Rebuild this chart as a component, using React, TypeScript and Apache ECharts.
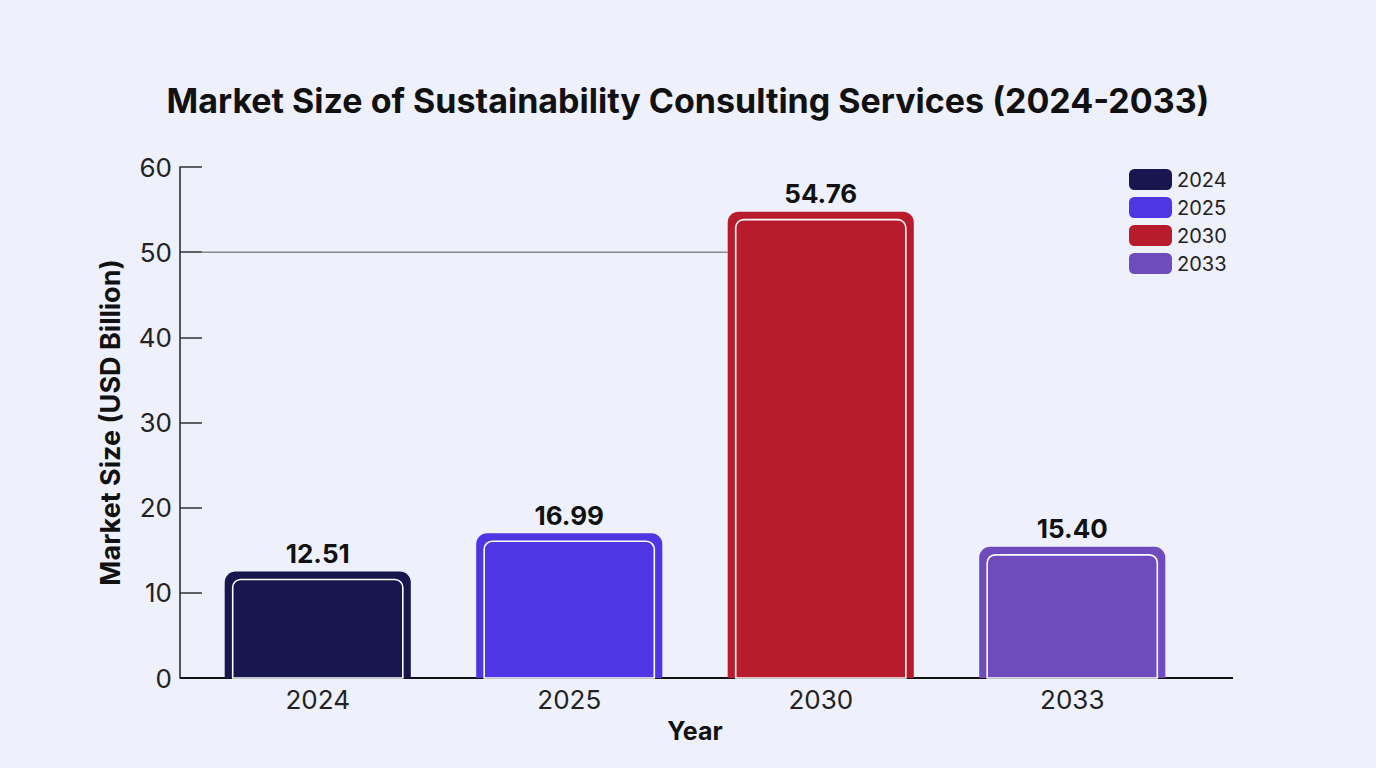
import React, { useEffect, useRef } from "react";
import * as echarts from "echarts";

const categories = ["2024", "2025", "2030", "2033"];
const values = [12.51, 16.99, 54.76, 15.4];
const colors = ["#17164f", "#4f35e3", "#b81b2b", "#6f4cbe"];
const yTicks = { min: 0, max: 60, interval: 10 };
const guideValue = 50;

const FONT = "Inter, 'Noto Sans', sans-serif";
const BAR_RATIO = 0.74;

export default function App() {
  const ref = useRef<HTMLDivElement>(null);
  useEffect(() => {
    if (!ref.current) return;
    const chart = echarts.init(ref.current, null, { renderer: "svg" });
    const series = categories.map((name, i) => ({
      type: "custom",
      name,
      z: 3,
      itemStyle: { color: colors[i] },
      encode: { x: 0, y: 1 },
      data: [[i, values[i]]],
      renderItem: (params: any, api: any) => {
        const idx = api.value(0);
        const v = api.value(1);
        const top = api.coord([idx, v]);
        const base = api.coord([idx, 0]);
        const bw = api.size([1, 0])[0] * BAR_RATIO;
        const x0 = top[0] - bw / 2;
        const h = base[1] - top[1];
        return {
          type: "group",
          children: [
            {
              type: "rect",
              shape: { x: x0, y: top[1], width: bw, height: h, r: [11, 11, 0, 0] },
              style: { fill: api.visual("color") },
            },
            {
              type: "rect",
              shape: { x: x0 + 8, y: top[1] + 8, width: bw - 16, height: h - 8, r: [8, 8, 0, 0] },
              style: { fill: "none", stroke: "#ffffff", lineWidth: 1.6 },
            },
            {
              type: "text",
              x: top[0],
              y: top[1] - 5,
              style: {
                text: v.toFixed(2),
                textAlign: "center",
                textVerticalAlign: "bottom",
                fontSize: 26,
                fontWeight: "bold",
                fontFamily: FONT,
                fill: "#111111",
              },
            },
          ],
        };
      },
    }));

    chart.setOption({
      animation: false,
      backgroundColor: "#eef0fb",
      title: {
        text: "Market Size of Sustainability Consulting Services (2024-2033)",
        left: "center",
        top: 78,
        textStyle: { fontSize: 34, fontWeight: "bold", fontFamily: FONT, color: "#111111" },
      },
      legend: {
        orient: "vertical",
        left: 1124,
        top: 164,
        itemWidth: 43,
        itemHeight: 21,
        itemGap: 7,
        icon: "roundRect",
        data: categories,
        textStyle: { fontSize: 20, fontFamily: FONT, color: "#222222" },
      },
      grid: { left: 192, right: 178, top: 167, bottom: 90 },
      xAxis: {
        type: "category",
        data: categories,
        name: "Year",
        nameLocation: "middle",
        nameGap: 40,
        nameTextStyle: { fontSize: 25, fontWeight: "bold", fontFamily: FONT, color: "#111111" },
        axisLine: { show: false },
        axisTick: { show: false },
        axisLabel: { fontSize: 26, fontFamily: FONT, color: "#222222", margin: 8 },
      },
      yAxis: {
        type: "value",
        min: yTicks.min,
        max: yTicks.max,
        interval: yTicks.interval,
        offset: 12,
        name: "Market Size (USD Billion)",
        nameLocation: "middle",
        nameGap: 56,
        nameTextStyle: { fontSize: 27, fontWeight: "bold", fontFamily: FONT, color: "#111111" },
        axisLine: { show: true, lineStyle: { color: "#222222", width: 1.5 } },
        axisTick: { show: true, inside: true, length: 22, lineStyle: { color: "#333333", width: 1.5 } },
        axisLabel: { fontSize: 26, fontFamily: FONT, color: "#222222", margin: 8 },
        splitLine: { show: false },
      },
      series,
    });

    const zeroPt = chart.convertToPixel({ gridIndex: 0 }, [0, 0]) as number[];
    const guidePt = chart.convertToPixel({ gridIndex: 0 }, [2, guideValue]) as number[];
    const firstPt = chart.convertToPixel({ gridIndex: 0 }, [0, 0]) as number[];
    const lastPt = chart.convertToPixel({ gridIndex: 0 }, [3, 0]) as number[];
    const step = (lastPt[0] - firstPt[0]) / 3;
    const axisX = firstPt[0] - step / 2 - 12;
    const barLeft2030 = guidePt[0] - (step * BAR_RATIO) / 2;
    chart.setOption({
      graphic: [
        {
          type: "line",
          z: 1,
          shape: { x1: axisX + 22, y1: guidePt[1], x2: barLeft2030, y2: guidePt[1] },
          style: { stroke: "#555555", lineWidth: 1 },
        },
        {
          type: "line",
          z: 1,
          shape: { x1: axisX, y1: zeroPt[1], x2: lastPt[0] + step / 2 + 35, y2: zeroPt[1] },
          style: { stroke: "#111111", lineWidth: 2 },
        },
      ],
    });

    return () => chart.dispose();
  }, []);
  return (
    <div
      ref={ref}
      style={{ position: "fixed", left: 0, top: 0, width: 1376, height: 768 }}
    />
  );
}
